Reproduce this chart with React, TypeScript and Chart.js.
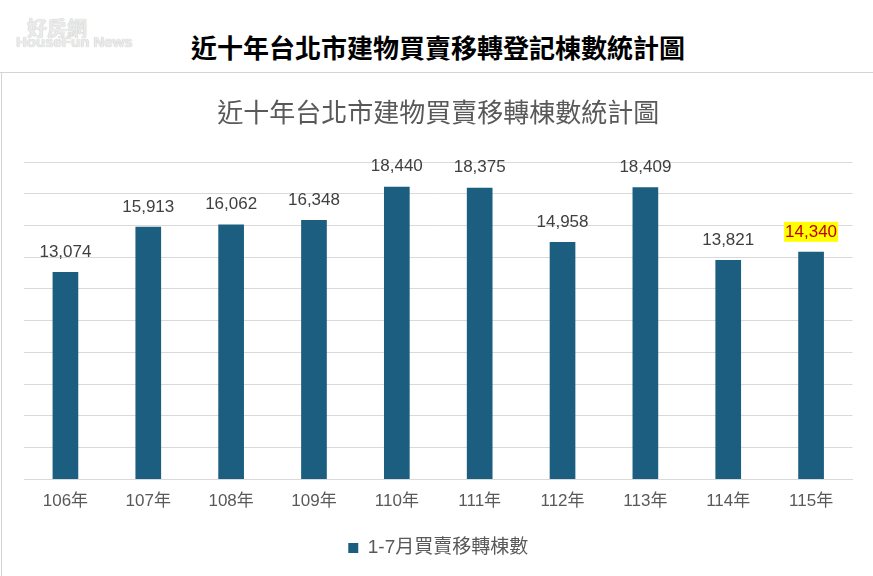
import React, { useEffect, useRef } from "react";
import { Chart, registerables } from "chart.js";

Chart.register(...registerables);

const categories: string[] = ["106年", "107年", "108年", "109年", "110年", "111年", "112年", "113年", "114年", "115年"];
const values: number[] = [13074, 15913, 16062, 16348, 18440, 18375, 14958, 18409, 13821, 14340];
const seriesName = "1-7月買賣移轉棟數";
const chartTitle = "近十年台北市建物買賣移轉棟數統計圖";
const pageTitle = "近十年台北市建物買賣移轉登記棟數統計圖";
const yMax = 20000;
const yStep = 2000;
const highlightIndex = 9;

const LATIN = '"Liberation Sans", "Noto Sans CJK TC", sans-serif';
const CJK = '"Noto Sans CJK TC", "Liberation Sans", sans-serif';
const BAR_COLOR = "#1b5e80";

const dataLabelPlugin = {
  id: "dataLabels",
  afterDatasetsDraw(chart: any) {
    const ctx = chart.ctx;
    const meta = chart.getDatasetMeta(0);
    const data = chart.data.datasets[0].data as number[];
    meta.data.forEach((bar: any, i: number) => {
      const text = data[i].toLocaleString("en-US");
      const x = bar.x;
      const y = bar.y - 20;
      ctx.save();
      ctx.textAlign = "center";
      ctx.textBaseline = "middle";
      if (i === highlightIndex) {
        ctx.font = "17px " + LATIN;
        const w = ctx.measureText(text).width;
        ctx.fillStyle = "#ffff00";
        ctx.fillRect(x - w / 2 - 1, y - 10, w + 2, 20);
        ctx.fillStyle = "#c00000";
      } else {
        ctx.font = "17px " + LATIN;
        ctx.fillStyle = "#404040";
      }
      ctx.fillText(text, x, y);
      ctx.restore();
    });
  },
};

export default function App() {
  const canvasRef = useRef<HTMLCanvasElement | null>(null);

  useEffect(() => {
    if (!canvasRef.current) return;
    const chart = new Chart(canvasRef.current, {
      type: "bar",
      data: {
        labels: categories,
        datasets: [
          {
            label: seriesName,
            data: values,
            backgroundColor: BAR_COLOR,
            borderWidth: 0,
            categoryPercentage: 1,
            barPercentage: 0.31,
          },
        ],
      },
      options: {
        responsive: false,
        animation: false,
        devicePixelRatio: 1,
        layout: { padding: { top: 74, left: 24, right: 20.5, bottom: 8.5 } },
        plugins: {
          title: {
            display: true,
            text: chartTitle,
            color: "#595959",
            font: { family: CJK, size: 26, weight: "normal", lineHeight: 1.2 },
            padding: { top: 22.4, bottom: 34.4 },
          },
          legend: {
            display: true,
            position: "bottom",
            labels: {
              boxWidth: 10,
              boxHeight: 10,
              padding: 14.7,
              color: "#595959",
              font: { family: LATIN, size: 19 },
            },
          },
          tooltip: { enabled: false },
        },
        scales: {
          x: {
            grid: { display: false, drawTicks: false },
            border: { display: true, color: "#d9d9d9" },
            ticks: { color: "#595959", font: { family: LATIN, size: 17 }, padding: 12 },
          },
          y: {
            min: 0,
            max: yMax,
            ticks: { display: false, stepSize: yStep },
            grid: { color: "#d9d9d9", drawTicks: false },
            border: { display: false },
          },
        },
      },
      plugins: [dataLabelPlugin],
    });
    return () => chart.destroy();
  }, []);

  return (
    <div style={{ position: "absolute", left: 0, top: 0, width: 873, height: 576, background: "#ffffff", overflow: "hidden" }}>
      <div style={{ position: "absolute", left: 27, top: 18, color: "#ebebeb", fontFamily: CJK, fontWeight: 700, fontSize: 20, lineHeight: "20px", textShadow: "0 0 1px #b0b0b0" }}>
        好房網
      </div>
      <div style={{ position: "absolute", left: 16, top: 35, color: "#ebebeb", fontFamily: '"Liberation Sans", sans-serif', fontWeight: 700, fontSize: 15, lineHeight: "14px", textShadow: "0 0 1px #b0b0b0" }}>
        HouseFun News
      </div>
      <div style={{ position: "absolute", left: 0, top: 34, width: 876, textAlign: "center", fontFamily: CJK, fontWeight: 700, fontSize: 26, lineHeight: "26px", color: "#000000" }}>
        {pageTitle}
      </div>
      <div style={{ position: "absolute", left: 0, top: 72, width: 873, height: 1, background: "#d4d4d4" }} />
      <div style={{ position: "absolute", left: 1, top: 72, width: 1, height: 504, background: "#d4d4d4" }} />
      <canvas ref={canvasRef} width={873} height={576} style={{ position: "absolute", left: 0, top: 0, width: 873, height: 576 }} />
    </div>
  );
}
